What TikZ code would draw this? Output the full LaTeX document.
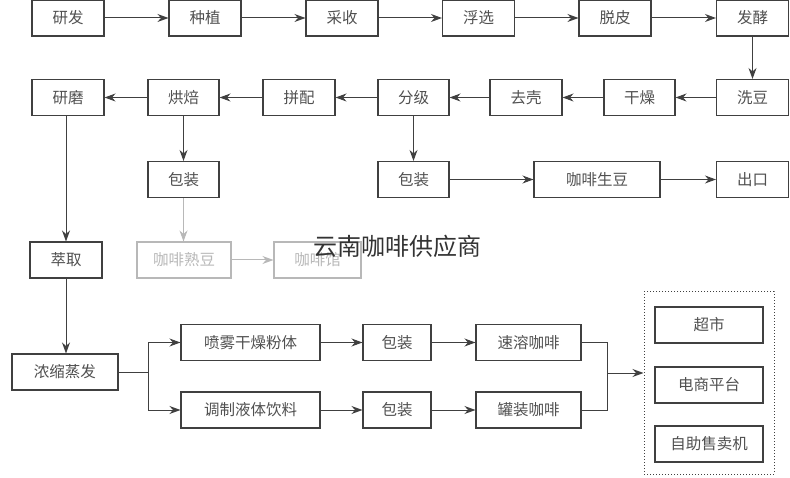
\documentclass[tikz,border=0pt]{standalone}
\usepackage{fontspec}
\setmainfont{Noto Sans CJK SC}
\newfontfamily\cjk{Noto Sans CJK SC}
\usetikzlibrary{arrows.meta,calc}
\definecolor{ln}{HTML}{404040}
\definecolor{tx}{HTML}{505050}
\definecolor{lg}{HTML}{B8B8B8}
\tikzset{
  box/.style={draw=ln, line width=1.1pt, inner sep=0pt, minimum width=72pt, minimum height=36pt, text=tx, font=\fontsize{15.5}{15.5}\selectfont},
  gbox/.style={box, draw=lg, text=lg},
  arr/.style={draw=ln, line width=1pt, -{Stealth[length=11pt,width=8pt]}},
  garr/.style={arr, draw=lg, -{Stealth[length=11pt,width=8pt,color=lg]}},
  ln/.style={draw=ln, line width=1pt}
}
\begin{document}
\begin{tikzpicture}[x=1pt,y=-1pt]
\useasboundingbox (0,0) rectangle (790,478);
% row 1
\node[box] (yanfa) at (68,18) {研发};
\node[box] (zhongzhi) at (205,18) {种植};
\node[box] (caishou) at (342,18) {采收};
\node[box] (fuxuan) at (478.5,18) {浮选};
\node[box] (tuopi) at (615,18) {脱皮};
\node[box] (fajiao) at (752.5,18) {发酵};
% row 2
\node[box] (yanmo) at (68,97.5) {研磨};
\node[box,minimum width=71pt] (hongbei) at (183.5,97.5) {烘焙};
\node[box] (pinpei) at (299,97.5) {拼配};
\node[box,minimum width=71pt] (fenji) at (413.5,97.5) {分级};
\node[box] (quke) at (526,97.5) {去壳};
\node[box,minimum width=71pt] (ganzao) at (639.5,97.5) {干燥};
\node[box] (xidou) at (752.5,97.5) {洗豆};
% row 3
\node[box,minimum width=71pt] (baozhuangA) at (183.5,179.5) {包装};
\node[box,minimum width=71pt] (baozhuangB) at (413.5,179.5) {包装};
\node[box,minimum width=126pt] (shengdou) at (597,179.5) {咖啡生豆};
\node[box] (chukou) at (752.5,179.5) {出口};
% row 4
\node[box] (cuiqu) at (66,260) {萃取};
\node[gbox,minimum width=94pt] (shudou) at (184,260) {咖啡熟豆};
\node[gbox,minimum width=87pt] (guan) at (317.5,260) {咖啡馆};
% row 5
\node[box,minimum width=106pt] (nongsuo) at (65,372) {浓缩蒸发};
\node[box,minimum width=139pt] (penwu) at (250.5,342.5) {喷雾干燥粉体};
\node[box,minimum width=139pt] (tiaozhi) at (250.5,410) {调制液体饮料};
\node[box,minimum width=68pt] (baozhuangC) at (397,342.5) {包装};
\node[box,minimum width=68pt] (baozhuangD) at (397,410) {包装};
\node[box,minimum width=105pt] (sudong) at (528.5,342.5) {速溶咖啡};
\node[box,minimum width=105pt] (guanzhuang) at (528.5,410) {罐装咖啡};
% outlets
\node[draw=ln, line width=1pt, dotted, minimum width=130pt, minimum height=182pt, inner sep=0pt] (outlet) at (709,383) {};
\node[box,minimum width=108pt] (chaoshi) at (709,325) {超市};
\node[box,minimum width=108pt] (dianshang) at (709,385) {电商平台};
\node[box,minimum width=108pt] (zizhu) at (709,444) {自助售卖机};
% watermark
\node[text=black!80, font=\fontsize{24}{24}\selectfont, inner sep=0pt] (wm) at (397,246) {云南咖啡供应商};
% connectors row 1
\draw[arr] (yanfa) -- (zhongzhi);
\draw[arr] (zhongzhi) -- (caishou);
\draw[arr] (caishou) -- (fuxuan);
\draw[arr] (fuxuan) -- (tuopi);
\draw[arr] (tuopi) -- (fajiao);
\draw[arr] (fajiao) -- (xidou);
% row 2
\draw[arr] (xidou) -- (ganzao);
\draw[arr] (ganzao) -- (quke);
\draw[arr] (quke) -- (fenji);
\draw[arr] (fenji) -- (pinpei);
\draw[arr] (pinpei) -- (hongbei);
\draw[arr] (hongbei) -- (yanmo);
% down
\draw[arr] (fenji) -- (baozhuangB);
\draw[arr] (baozhuangB) -- (shengdou);
\draw[arr] (shengdou) -- (chukou);
\draw[arr] (hongbei) -- (baozhuangA);
\draw[garr] (baozhuangA.south) -- (shudou.north -| baozhuangA.south);
\draw[garr] (shudou) -- (guan);
\draw[arr] (yanmo.south -| cuiqu) -- (cuiqu.north);
\draw[arr] (cuiqu.south) -- (nongsuo.north -| cuiqu.south);
% branch
\draw[ln] (nongsuo.east) -- ++(30,0) coordinate (b1);
\draw[arr] (b1) |- (penwu.west);
\draw[arr] (b1) |- (tiaozhi.west);
\draw[arr] (penwu) -- (baozhuangC);
\draw[arr] (tiaozhi) -- (baozhuangD);
\draw[arr] (baozhuangC) -- (sudong);
\draw[arr] (baozhuangD) -- (guanzhuang);
% merge
\coordinate (m) at (607,373);
\draw[ln] (sudong.east) -| (m);
\draw[ln] (guanzhuang.east) -| (m);
\draw[arr] (m) -- (m -| outlet.west);
\end{tikzpicture}
\end{document}
